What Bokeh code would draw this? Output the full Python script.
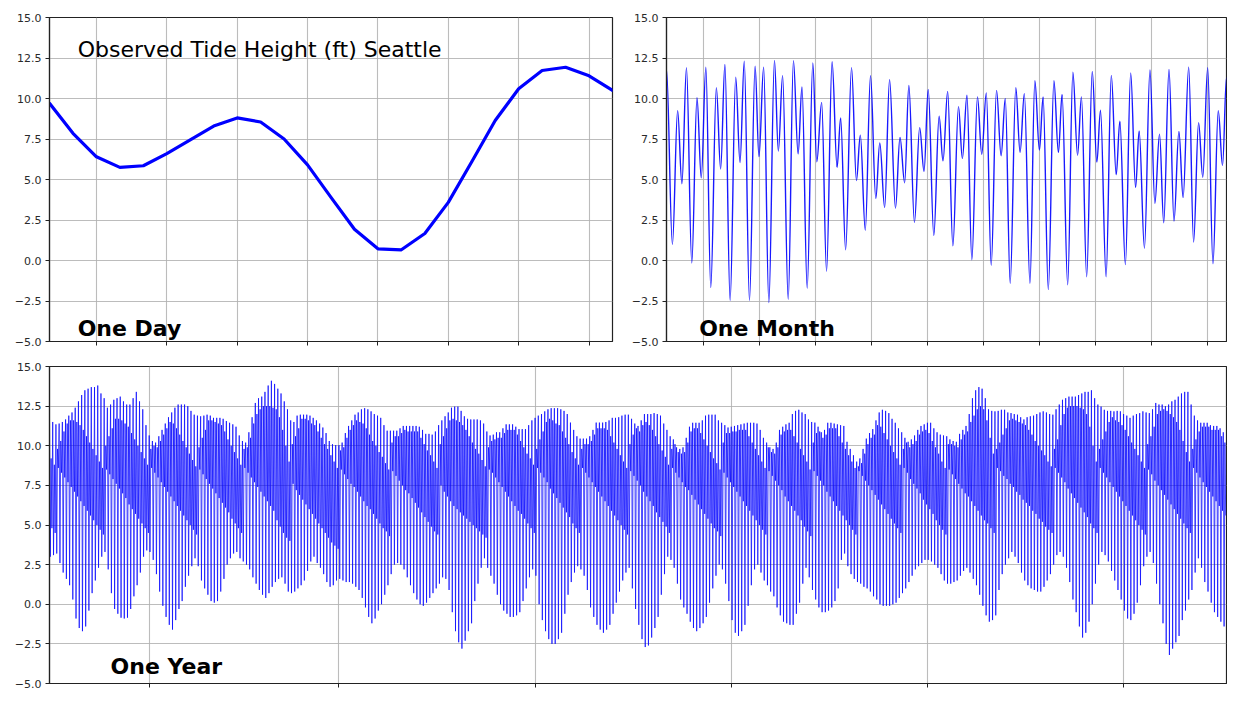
import numpy as np
from bokeh.plotting import figure
from bokeh.models import Range1d, FixedTicker, Label, ColumnDataSource, CustomJSTickFormatter
from bokeh.layouts import column, row
from bokeh.embed import file_html
from bokeh.resources import INLINE

# ---------------- One Day (hourly, ft) ----------------
day_hours = list(range(25))
day_ft = [9.7, 7.85, 6.4, 5.75, 5.85, 6.6, 7.45, 8.3, 8.8, 8.55, 7.5, 5.9, 3.9,
          1.93, 0.72, 0.66, 1.67, 3.59, 6.1, 8.64, 10.6, 11.73, 11.93, 11.4, 10.5]
day_ticks = [2, 5, 8, 11, 14, 17, 20, 23]

# ---------------- One Month (successive highs / lows) ----------------
month_hours = [0, 7.6, 14.3, 19.8, 25.7, 32.5, 39.2, 44.7, 50.6, 56.9, 64.1, 69.6,
               75.1, 81.8, 89.0, 94.5, 100.0, 106.7, 113.9, 118.9, 124.9, 131.6, 138.8, 143.8,
               149.3, 156.5, 163.2, 169.2, 174.2, 180.9, 188.1, 193.2, 199.5, 205.8, 212.9, 219.3,
               223.9, 230.3, 237.9, 244.2, 249.2, 255.6, 262.3, 269.1, 274.2, 280.5, 286.8, 294.4,
               300.2, 306.2, 311.6, 318.8, 325.5, 331.1, 336.5, 343.7, 350.5, 355.5, 361.5, 368.2,
               375.4, 380.4, 386.3, 392.6, 399.8, 405.3, 411.2, 417.5, 424.3, 430.2, 435.6, 441.9,
               449.1, 454.6, 460.1, 467.3, 473.6, 479.5, 484.2, 490.9, 498.1, 503.9, 508.6, 515.8,
               522.5, 528.5, 533.5, 540.2, 547.4, 553.3, 558.0, 565.2, 571.9, 578.2, 582.9, 590.0,
               596.8, 603.1, 607.7, 614.5, 621.6, 627.9, 633.9, 639.3, 646.1, 652.5, 658.8, 664.2,
               671.4, 677.7, 684.1, 689.5, 695.8, 702.6, 709.4, 714.9, 720]
month_ft = [11.8, 1.0, 9.24, 4.74, 11.9, -0.15, 10.05, 5.1, 11.93, -1.67, 10.66, 5.65,
            12.1, -2.47, 11.32, 6.05, 12.3, -2.47, 12.0, 6.41, 11.93, -2.6, 12.35, 6.76,
            11.4, -2.4, 12.33, 6.58, 10.72, -1.71, 12.2, 6.1, 9.75, -0.66, 12.27, 5.75,
            8.8, 0.66, 11.9, 4.94, 7.73, 1.87, 11.4, 3.83, 7.26, 3.28, 11.16, 3.24,
            7.6, 4.8, 10.8, 2.35, 8.2, 5.5, 10.56, 1.55, 8.9, 6.15, 10.43, 0.9,
            9.5, 6.3, 10.2, 0.05, 10.1, 6.56, 10.35, -0.3, 10.5, 6.47, 10.0, -1.4,
            10.66, 6.68, 10.3, -1.4, 11.1, 6.82, 10.1, -1.8, 11.1, 6.66, 10.25, -1.5,
            11.63, 6.5, 10.1, -1.0, 11.67, 6.07, 9.28, -1.0, 11.43, 5.3, 8.6, -0.25,
            11.57, 4.5, 8.0, 0.76, 11.77, 3.53, 7.8, 2.33, 11.8, 2.43, 7.97, 3.89,
            11.93, 1.14, 8.5, 5.14, 11.9, -0.2, 9.24, 5.87, 11.3]
month_ticks = [48, 120, 192, 264, 336, 408, 480, 552, 624, 696]

# ---------------- One Year (per day: higher high, lower low, lower high, higher low) ----------------
year_hh = [
    11.7, 11.5, 11.35, 11.4, 11.5, 11.66, 11.9, 12.1, 12.4, 12.8,        # 0
    13.2, 13.5, 13.6, 13.7, 13.7, 13.8, 13.3, 13.0, 12.4, 12.6,          # 10
    12.9, 13.0, 13.1, 12.8, 12.6, 12.6, 13.0, 13.4, 12.8, 12.3,          # 20
    11.3, 10.65, 10.3, 10.2, 10.6, 11.0, 11.4, 11.8, 12.1, 12.4,         # 30
    12.6, 12.6, 12.6, 12.5, 12.2, 11.96, 11.9, 11.86, 11.9, 11.96,       # 40
    11.9, 11.76, 11.76, 11.76, 11.7, 11.56, 11.45, 11.35, 11.2, 10.65,   # 50
    10.3, 10.2, 10.85, 11.8, 12.7, 13.0, 13.1, 13.4, 13.8, 14.1,         # 60
    13.9, 13.6, 13.3, 12.8, 12.3, 11.6, 11.5, 11.9, 11.96, 11.96,        # 70
    11.96, 11.9, 11.76, 11.6, 11.4, 11.15, 10.8, 10.3, 10.1, 10.04,      # 80
    10.04, 10.2, 10.8, 11.25, 11.6, 11.96, 12.1, 12.3, 12.37, 12.3,      # 90
    12.17, 12.0, 11.9, 11.76, 11.3, 10.95, 10.95, 10.95, 10.95, 11.1,    # 100
    11.25, 11.25, 11.25, 11.25, 11.25, 11.2, 11.0, 10.75, 10.75, 10.7,   # 110
    10.9, 11.3, 11.6, 11.86, 12.1, 12.4, 12.47, 12.47, 12.2, 11.86,      # 120
    11.7, 11.66, 11.66, 11.66, 11.6, 11.4, 10.9, 10.65, 10.7, 10.85,     # 130
    10.85, 11.1, 11.35, 11.35, 11.35, 11.2, 11.05, 11.05, 11.05, 11.3,   # 140
    11.6, 11.76, 11.9, 12.0, 12.17, 12.3, 12.37, 12.37, 12.37, 12.3,     # 150
    12.2, 12.0, 11.46, 11.0, 10.6, 10.45, 10.45, 10.45, 10.6, 11.0,      # 160
    11.46, 11.46, 11.46, 11.5, 11.6, 11.76, 11.76, 11.8, 11.9, 11.96,    # 170
    11.96, 11.7, 11.4, 11.25, 11.6, 12.0, 12.0, 12.0, 12.06, 12.0,       # 180
    11.9, 11.4, 11.0, 10.6, 10.4, 9.9, 9.8, 9.9, 10.5, 11.2,             # 190
    11.45, 11.45, 11.45, 11.6, 11.9, 11.96, 11.96, 11.96, 11.6, 11.45,   # 200
    11.3, 11.15, 11.2, 11.25, 11.3, 11.35, 11.4, 11.45, 11.45, 11.45,    # 210
    11.4, 11.0, 10.5, 10.2, 9.9, 9.8, 10.2, 11.0, 11.2, 11.35,           # 220
    11.45, 12.0, 12.2, 12.27, 12.1, 12.0, 11.66, 11.5, 11.46, 11.2,      # 230
    10.85, 11.0, 11.45, 11.45, 11.4, 11.35, 11.3, 11.25, 10.25, 9.8,     # 240
    9.4, 9.0, 9.2, 9.8, 10.45, 10.8, 11.05, 11.6, 12.1, 12.27,           # 250
    12.2, 12.06, 11.7, 11.45, 11.1, 10.85, 10.5, 10.25, 10.4, 10.65,     # 260
    11.0, 11.25, 11.35, 11.45, 11.45, 11.1, 10.85, 10.7, 10.65, 10.6,    # 270
    10.4, 10.3, 10.25, 10.75, 11.0, 11.25, 12.0, 13.0, 13.5, 13.7,       # 280
    13.6, 13.0, 12.3, 12.2, 12.17, 12.2, 12.27, 12.27, 12.1, 12.06,      # 290
    12.0, 11.96, 11.8, 11.66, 11.8, 11.86, 11.9, 12.0, 12.1, 12.17,      # 300
    12.1, 12.0, 11.96, 12.3, 12.6, 12.9, 13.0, 13.1, 13.1, 13.1,         # 310
    13.2, 13.3, 13.4, 13.4, 13.5, 13.0, 12.6, 12.47, 12.27, 12.2,        # 320
    12.2, 12.17, 12.2, 12.17, 12.0, 11.9, 11.76, 11.9, 12.0, 12.06,      # 330
    12.17, 12.1, 12.06, 12.3, 12.7, 12.6, 12.6, 12.5, 12.6, 12.8,        # 340
    12.9, 13.1, 13.3, 13.4, 13.4, 12.6, 11.9, 11.6, 11.45, 11.45,        # 350
    11.45, 11.3, 11.25, 11.25, 11.1, 10.85]                              # 360
year_ll = [
    3.0, 3.1, 3.2, 2.6, 2.0, 1.6, 1.2, 0.3, -0.9, -1.5,
    -1.7, -1.4, -0.4, 0.7, 1.5, 2.3, 3.0, 3.3, 2.2, 0.7,
    -0.3, -0.6, -0.85, -0.9, -0.85, -0.3, 0.5, 1.2, 2.0, 3.0,
    3.4, 3.3, 2.8, 1.9, 0.8, -0.1, -0.8, -1.3, -1.6, -1.0,
    -0.3, 0.2, 1.1, 1.8, 2.4, 2.9, 2.4, 1.5, 1.0, 0.6,
    0.2, 0.1, 0.2, 0.8, 1.6, 2.5, 2.9, 3.2, 3.3, 2.9,
    2.7, 2.5, 2.2, 1.7, 1.3, 0.9, 0.6, 0.4, 0.7, 1.1,
    1.4, 1.6, 1.7, 1.3, 0.8, 0.7, 0.8, 1.0, 1.2, 1.5,
    2.1, 2.7, 3.0, 2.6, 2.3, 1.9, 1.4, 1.1, 1.2, 1.5,
    1.6, 1.5, 1.4, 1.4, 1.3, 1.1, 0.9, 0.4, -0.2, -0.8,
    -1.2, -0.9, -0.4, 0.0, 0.6, 1.2, 1.9, 2.5, 2.6, 2.5,
    2.2, 1.7, 1.2, 0.7, 0.3, 0.0, -0.1, 0.1, 0.4, 0.7,
    1.0, 1.3, 1.7, 1.6, 0.9, -0.5, -1.7, -2.4, -2.8, -2.3,
    -1.7, -1.2, 0.2, 1.3, 2.3, 2.9, 2.3, 1.8, 1.3, 0.6,
    0.0, -0.4, -0.6, -0.8, -0.8, -0.7, -0.5, 0.2, 1.0, 1.7,
    2.2, 1.8, 0.0, -1.0, -1.7, -2.2, -2.5, -2.5, -2.2, -1.8,
    -0.6, 0.6, 1.4, 2.0, 2.4, 2.2, 1.8, 0.9, -0.2, -0.8,
    -1.3, -1.6, -1.8, -1.6, -1.3, -0.6, 0.1, 0.8, 1.5, 2.0,
    2.3, 1.0, -0.3, -1.3, -2.2, -2.7, -2.6, -2.1, -1.5, -0.8,
    0.6, 1.9, 3.0, 2.8, 2.3, 1.3, 0.3, -0.2, -0.6, -1.1,
    -1.5, -1.7, -1.5, -1.2, -0.8, 0.1, 1.0, 1.8, 2.5, 2.2,
    1.3, 0.2, -1.0, -1.8, -2.0, -1.7, -1.3, -0.1, 1.2, 2.2,
    2.5, 2.0, 1.5, 1.2, 0.8, 0.5, -0.2, -0.7, -1.1, -1.2,
    -1.3, -1.3, -0.6, 0.1, 1.3, 2.3, 1.7, 0.9, 0.3, -0.2,
    -0.5, -0.5, -0.4, -0.2, 0.2, 1.0, 2.8, 3.2, 2.4, 1.9,
    1.6, 1.4, 1.3, 1.1, 1.0, 0.8, 0.5, 0.3, 0.0, -0.1,
    -0.1, -0.1, 0.0, 0.1, 0.4, 0.7, 1.0, 1.4, 1.8, 2.2,
    2.4, 2.6, 2.8, 2.8, 2.7, 2.5, 2.3, 1.9, 1.5, 1.3,
    1.3, 1.4, 1.5, 1.8, 2.1, 2.3, 2.0, 1.6, 1.2, 0.6,
    -0.1, -0.7, -1.1, -1.0, -0.7, 0.9, 1.9, 2.5, 2.9, 3.3,
    3.0, 2.6, 2.0, 1.5, 1.2, 1.0, 0.9, 0.8, 0.8, 1.1,
    1.5, 1.9, 2.5, 3.1, 3.3, 3.0, 2.3, 1.4, 0.3, -0.5,
    -1.4, -2.1, -1.8, -1.1, 0.0, 1.3, 2.5, 3.3, 3.1, 2.7,
    2.1, 1.5, 0.9, 0.3, -0.4, -0.9, -1.0, -0.6, 0.1, 1.2,
    2.4, 3.0, 3.3, 2.6, 1.3, 0.0, -1.2, -2.5, -3.2, -2.8,
    -2.4, -2.0, -1.0, -0.4, 0.3, 0.9, 2.0, 2.9, 2.3, 1.4,
    0.8, 0.1, -0.5, -0.8, -1.1, -1.4]
year_lh = [
    9.2, 8.8, 9.8, 10.3, 10.9, 11.4, 11.6, 11.6, 11.5, 11.3,
    11.0, 10.6, 10.2, 9.8, 9.4, 9.0, 8.6, 10.0, 10.6, 11.1,
    11.7, 11.7, 11.6, 11.4, 11.2, 10.8, 10.4, 10.0, 9.6, 9.2,
    8.8, 9.8, 10.0, 9.9, 10.3, 10.7, 11.1, 11.5, 11.4, 11.1,
    10.7, 10.3, 9.9, 9.5, 9.1, 8.7, 9.9, 10.5, 11.0, 11.6,
    11.6, 11.5, 11.4, 11.3, 10.9, 10.4, 10.0, 9.6, 9.2, 8.8,
    9.8, 9.9, 10.5, 11.4, 12.0, 12.3, 12.5, 12.5, 12.5, 12.4,
    12.3, 11.8, 11.0, 10.0, 9.0, 10.1, 10.6, 11.1, 11.7, 11.7,
    11.6, 11.4, 11.3, 10.9, 10.5, 10.1, 9.8, 9.4, 9.0, 8.6,
    9.7, 9.9, 10.5, 11.0, 11.3, 11.6, 11.5, 11.4, 11.1, 10.7,
    10.3, 10.0, 9.6, 9.3, 8.9, 8.5, 10.2, 10.6, 10.6, 10.8,
    11.0, 10.9, 10.9, 10.9, 10.9, 10.5, 10.1, 9.7, 9.4, 9.0,
    8.6, 10.1, 10.6, 11.1, 11.6, 11.7, 11.6, 11.5, 11.3, 11.0,
    10.6, 10.2, 9.8, 9.5, 9.1, 8.7, 9.9, 10.3, 10.4, 10.5,
    10.5, 10.8, 11.0, 11.0, 11.0, 10.7, 10.3, 9.9, 9.5, 9.2,
    8.8, 9.8, 10.4, 10.9, 11.5, 11.7, 11.6, 11.4, 11.3, 10.9,
    10.5, 10.1, 9.6, 9.2, 8.8, 9.8, 10.1, 10.1, 10.3, 10.7,
    11.1, 11.1, 11.1, 11.0, 10.6, 10.2, 9.8, 9.4, 9.0, 8.6,
    10.1, 10.7, 11.1, 10.9, 11.3, 11.5, 11.3, 11.0, 10.6, 10.1,
    9.7, 9.3, 8.8, 9.8, 10.1, 9.6, 9.5, 9.6, 10.2, 10.9,
    11.1, 11.1, 10.8, 10.4, 10.0, 9.6, 9.2, 8.9, 8.5, 10.2,
    10.8, 10.8, 10.9, 10.9, 11.0, 11.0, 11.0, 10.6, 10.2, 9.8,
    9.4, 9.0, 8.6, 9.9, 9.6, 9.5, 9.9, 10.7, 10.9, 11.0,
    11.0, 10.6, 10.2, 9.8, 9.4, 9.0, 8.5, 10.2, 10.8, 10.9,
    10.5, 10.7, 11.1, 11.1, 11.1, 10.6, 10.2, 9.8, 9.4, 9.0,
    8.6, 8.7, 8.9, 9.5, 10.1, 10.5, 10.7, 11.3, 11.2, 10.8,
    10.4, 10.0, 9.6, 9.2, 8.8, 9.8, 10.2, 9.9, 10.1, 10.3,
    10.7, 10.9, 11.0, 10.8, 10.3, 9.9, 9.5, 9.0, 8.6, 10.1,
    10.1, 10.0, 9.9, 10.4, 10.7, 10.9, 11.5, 11.9, 12.3, 12.5,
    12.3, 11.6, 10.5, 9.5, 9.8, 10.2, 10.7, 11.1, 11.6, 11.7,
    11.6, 11.5, 11.4, 11.3, 11.0, 10.7, 10.3, 10.0, 9.7, 9.4,
    9.0, 8.7, 9.8, 10.4, 11.3, 12.0, 12.4, 12.5, 12.5, 12.5,
    12.4, 12.3, 12.0, 11.2, 10.0, 9.0, 9.8, 10.4, 10.9, 11.5,
    11.8, 11.6, 11.5, 11.3, 11.0, 10.6, 10.2, 9.8, 9.4, 9.0,
    8.6, 10.1, 10.6, 11.2, 12.0, 12.2, 12.3, 12.2, 12.0, 11.8,
    11.5, 11.0, 10.3, 9.6, 9.0, 9.8, 10.4, 10.9, 11.2, 11.2,
    11.2, 11.0, 11.0, 11.0, 10.6, 10.2]
year_hl = [
    4.8, 4.5, 8.6, 8.3, 8.0, 7.7, 7.4, 7.1, 6.8, 6.5,
    6.2, 5.9, 5.6, 5.3, 5.0, 4.7, 4.4, 8.5, 8.2, 7.9,
    7.6, 7.3, 7.0, 6.7, 6.3, 6.0, 5.7, 5.4, 5.1, 4.8,
    4.5, 8.6, 8.3, 8.0, 7.7, 7.4, 7.1, 6.8, 6.5, 6.2,
    5.9, 5.6, 5.3, 5.0, 4.7, 4.4, 8.5, 8.2, 7.9, 7.6,
    7.3, 7.0, 6.7, 6.4, 6.1, 5.8, 5.4, 5.1, 4.8, 4.5,
    8.6, 8.3, 8.0, 7.7, 7.4, 7.1, 6.8, 6.5, 6.2, 5.9,
    5.3, 4.9, 4.5, 4.2, 4.0, 7.6, 7.2, 6.9, 6.6, 6.3,
    6.0, 5.7, 5.4, 5.1, 4.8, 4.5, 4.2, 3.9, 3.7, 3.5,
    8.5, 8.2, 7.9, 7.6, 7.4, 7.1, 6.8, 6.5, 6.2, 6.0,
    5.7, 5.4, 5.1, 4.8, 4.6, 4.3, 8.4, 8.1, 7.8, 7.5,
    7.2, 7.0, 6.7, 6.4, 6.1, 5.8, 5.5, 5.2, 4.9, 4.6,
    4.4, 7.5, 7.1, 6.8, 6.5, 6.2, 6.0, 5.8, 5.6, 5.4,
    5.2, 5.0, 4.8, 4.6, 4.4, 4.2, 8.5, 8.3, 8.0, 7.7,
    7.4, 7.1, 6.8, 6.5, 6.2, 5.9, 5.7, 5.4, 5.1, 4.8,
    4.5, 8.6, 8.3, 8.0, 7.7, 7.3, 7.0, 6.7, 6.4, 6.1,
    5.8, 5.5, 5.1, 4.8, 4.5, 8.6, 8.3, 8.0, 7.7, 7.4,
    7.1, 6.8, 6.5, 6.2, 5.9, 5.6, 5.3, 5.0, 4.7, 4.4,
    8.4, 8.1, 7.8, 7.5, 7.1, 6.8, 6.5, 6.2, 5.8, 5.5,
    5.2, 4.9, 4.5, 8.6, 8.3, 8.0, 7.7, 7.4, 7.2, 6.9,
    6.6, 6.3, 6.0, 5.7, 5.4, 5.1, 4.8, 4.6, 4.3, 8.3,
    8.0, 7.7, 7.4, 7.1, 6.8, 6.5, 6.2, 5.9, 5.6, 5.3,
    5.0, 4.7, 4.4, 8.4, 8.1, 7.8, 7.5, 7.2, 6.8, 6.5,
    6.2, 5.9, 5.6, 5.3, 4.9, 4.6, 4.3, 8.4, 8.1, 7.8,
    7.5, 7.1, 6.8, 6.5, 6.2, 5.9, 5.6, 5.3, 5.0, 4.7,
    4.4, 8.4, 8.1, 7.8, 7.5, 7.2, 6.9, 6.6, 6.3, 6.0,
    5.7, 5.4, 5.1, 4.8, 4.5, 8.6, 8.3, 7.9, 7.6, 7.3,
    7.0, 6.6, 6.3, 6.0, 5.7, 5.3, 5.0, 4.7, 4.4, 8.5,
    8.2, 7.9, 7.6, 7.3, 7.0, 6.8, 6.5, 6.2, 5.9, 5.6,
    5.3, 5.1, 4.8, 4.5, 8.6, 8.4, 8.1, 7.9, 7.6, 7.4,
    7.1, 6.9, 6.6, 6.4, 6.2, 5.9, 5.7, 5.4, 5.2, 4.9,
    4.7, 4.5, 8.6, 8.3, 8.0, 7.7, 7.3, 7.0, 6.7, 6.4,
    6.1, 5.8, 5.5, 5.1, 4.8, 4.5, 8.6, 8.3, 8.0, 7.7,
    7.4, 7.1, 6.8, 6.5, 6.2, 5.9, 5.6, 5.3, 5.0, 4.7,
    4.4, 8.5, 8.2, 7.8, 7.5, 7.2, 6.9, 6.6, 6.3, 6.0,
    5.7, 5.4, 5.1, 4.8, 4.5, 8.6, 8.3, 8.0, 7.7, 7.4,
    7.1, 6.8, 6.5, 6.2, 5.9, 5.6]
year_ticks = [31, 90, 151, 212, 273, 334]

y_ticks = [-5.0, -2.5, 0.0, 2.5, 5.0, 7.5, 10.0, 12.5, 15.0]

FONT = "DejaVu Sans"
BLUE = "#0000ff"


def make_fig(width, height, xr, xticks, left, right, top, bottom):
    p = figure(width=width, height=height, output_backend="svg", toolbar_location=None,
               x_range=Range1d(*xr), y_range=Range1d(-5, 15),
               min_border_left=left, min_border_right=right,
               min_border_top=top, min_border_bottom=bottom)
    p.background_fill_color = "white"
    p.border_fill_color = "white"
    p.outline_line_color = "#222222"
    p.outline_line_width = 1.2
    p.xaxis.ticker = FixedTicker(ticks=xticks)
    p.yaxis.ticker = FixedTicker(ticks=y_ticks)
    p.yaxis.formatter = CustomJSTickFormatter(
        code="return (tick < 0 ? '\u2212' : '') + Math.abs(tick).toFixed(1);")
    p.xaxis.formatter = CustomJSTickFormatter(code="return '';")
    p.xaxis.major_label_text_font_size = "0px"
    p.xaxis.major_label_standoff = 0
    p.yaxis.major_label_text_font = FONT
    p.yaxis.major_label_text_font_size = "11px"
    p.yaxis.major_label_text_color = "#2a2a2a"
    p.yaxis.major_label_standoff = 4
    for ax in (p.xaxis, p.yaxis):
        ax.major_tick_out = 4
        ax.major_tick_in = 0
        ax.minor_tick_out = 0
        ax.minor_tick_in = 0
        ax.major_tick_line_color = "#222222"
        ax.axis_line_color = "#222222"
        ax.axis_line_width = 1.2
    p.grid.grid_line_color = "#b0b0b0"
    p.grid.grid_line_width = 1.1
    p.grid.grid_line_alpha = 0.85
    return p


def big_label(p, x, y, text, bold=True):
    p.add_layout(Label(x=x, y=y, text=text, text_font=FONT, text_font_size="22px",
                       text_font_style="bold" if bold else "normal",
                       text_color="black", text_baseline="alphabetic", text_align="left"))


# ---- Day panel
p1 = make_fig(626, 354, (0, 24), day_ticks, 49, 14, 17, 13)
p1.line(day_hours, day_ft, line_color=BLUE, line_width=3.2, line_join="round", line_cap="round")
big_label(p1, 1.2, 13.0, "Observed Tide Height (ft) Seattle", bold=False)
big_label(p1, 1.2, -4.2, "One Day")

# ---- Month panel (smooth curve through successive extremes)
p2 = make_fig(601, 354, (0, 720), month_ticks, 40, 1, 17, 13)
mt = np.array(month_hours, dtype=float)
mv = np.array(month_ft, dtype=float)
assert len(mt) == len(mv)
k = 0.3634
dt = np.diff(mt)
msrc = ColumnDataSource(dict(x0=mt[:-1], y0=mv[:-1], x1=mt[1:], y1=mv[1:],
                             cx0=mt[:-1] + k * dt, cy0=mv[:-1],
                             cx1=mt[1:] - k * dt, cy1=mv[1:]))
p2.bezier(x0="x0", y0="y0", x1="x1", y1="y1", cx0="cx0", cy0="cy0", cx1="cx1", cy1="cy1",
          source=msrc, line_color=BLUE, line_width=1.4, line_alpha=0.9)
big_label(p2, 42.0, -4.2, "One Month")

# ---- Year panel
p3 = make_fig(1227, 336, (0, 366), year_ticks, 49, 1, 12, 7)
n = len(year_hh)
assert n == len(year_ll) == len(year_lh) == len(year_hl)
yv = np.column_stack([year_hh, year_ll, year_lh, year_hl]).ravel()
yt = (np.arange(n)[:, None] + np.array([0.0, 0.25, 0.5, 0.75])[None, :]).ravel()
ysrc = ColumnDataSource(dict(x0=yt[:-1], y0=yv[:-1], x1=yt[1:], y1=yv[1:]))
p3.segment(x0="x0", y0="y0", x1="x1", y1="y1", source=ysrc,
           line_color=BLUE, line_width=1.0, line_alpha=0.7)
big_label(p3, 19.0, -3.9, "One Year")

layout = column(row(p1, p2), p3)
open("out.html", "w").write(file_html(layout, INLINE))
